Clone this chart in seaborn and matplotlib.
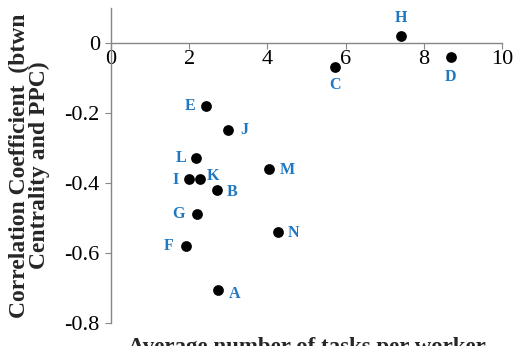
import matplotlib
matplotlib.use("Agg")
import matplotlib.pyplot as plt
import seaborn as sns
import pandas as pd
from matplotlib.ticker import FuncFormatter

labels = ["A", "B", "C", "D", "E", "F", "G", "H", "I", "J", "K", "L", "M", "N"]
avg_tasks = [2.74, 2.71, 5.74, 8.69, 2.43, 1.92, 2.20, 7.41, 1.99, 2.99, 2.28, 2.17, 4.04, 4.27]
corr = [-0.706, -0.42, -0.07, -0.04, -0.18, -0.58, -0.49, 0.02, -0.39, -0.25, -0.39, -0.33, -0.36, -0.54]
# label offsets in pixels (dx, dy)
offsets = {"A": (16, -4), "B": (15, -2), "C": (0, -18), "D": (0, -20), "E": (-16, 0),
           "F": (-17, 0), "G": (-18, 0), "H": (0, 18), "I": (-13, -1), "J": (16, 0),
           "K": (13, 3), "L": (-15, 0), "M": (18, -1), "N": (16, -1)}

df = pd.DataFrame({"label": labels, "x": avg_tasks, "y": corr})

sns.set_style("white")
plt.rcParams["font.family"] = ["Liberation Serif", "DejaVu Serif"]

fig = plt.figure(figsize=(5.21, 3.46), dpi=100)
ax = fig.add_axes([0.213, 0.0665, 0.7505, 0.9105])
sns.scatterplot(data=df, x="x", y="y", color="black", s=60, edgecolor="black", linewidth=0, ax=ax, zorder=3)

for lab, x, y in zip(labels, avg_tasks, corr):
    dx, dy = offsets[lab]
    ax.annotate(lab, (x, y), xytext=(dx * 0.72, dy * 0.72), textcoords="offset points",
                ha="center", va="center", color="#1f78c1", fontweight="bold", fontsize=11.5)

ax.set_xlim(0, 10)
ax.set_ylim(-0.8, 0.1)
ax.set_xticks([0, 2, 4, 6, 8, 10])
ax.set_yticks([0, -0.2, -0.4, -0.6, -0.8])
ax.yaxis.set_major_formatter(FuncFormatter(lambda v, p: "0" if abs(v) < 1e-9 else f"{v:.1f}".replace("\u2212", "-")))
ax.xaxis.set_major_formatter(FuncFormatter(lambda v, p: f"{v:g}"))

ax.spines["top"].set_visible(False)
ax.spines["right"].set_visible(False)
ax.spines["bottom"].set_position(("data", 0))
for s in ("left", "bottom"):
    ax.spines[s].set_color("#868686")
    ax.spines[s].set_linewidth(1.0)
ax.tick_params(axis="both", which="both", direction="out", length=4, color="#868686",
               labelsize=16, labelcolor="black", bottom=True, left=True)
ax.tick_params(axis="x", pad=1)
ax.tick_params(axis="y", pad=4)

ax.set_ylabel("Correlation Coefficient  (btwn\nCentrality and PPC)", fontsize=17,
              fontweight="bold", linespacing=0.95)
ax.yaxis.set_label_coords(-0.155, 0.5)
ax.set_xlabel("Average number of tasks per worker", fontsize=16.5, fontweight="bold", va="top")
ax.xaxis.set_label_coords(0.5, -0.045)

fig.savefig("out.png", dpi=100)
